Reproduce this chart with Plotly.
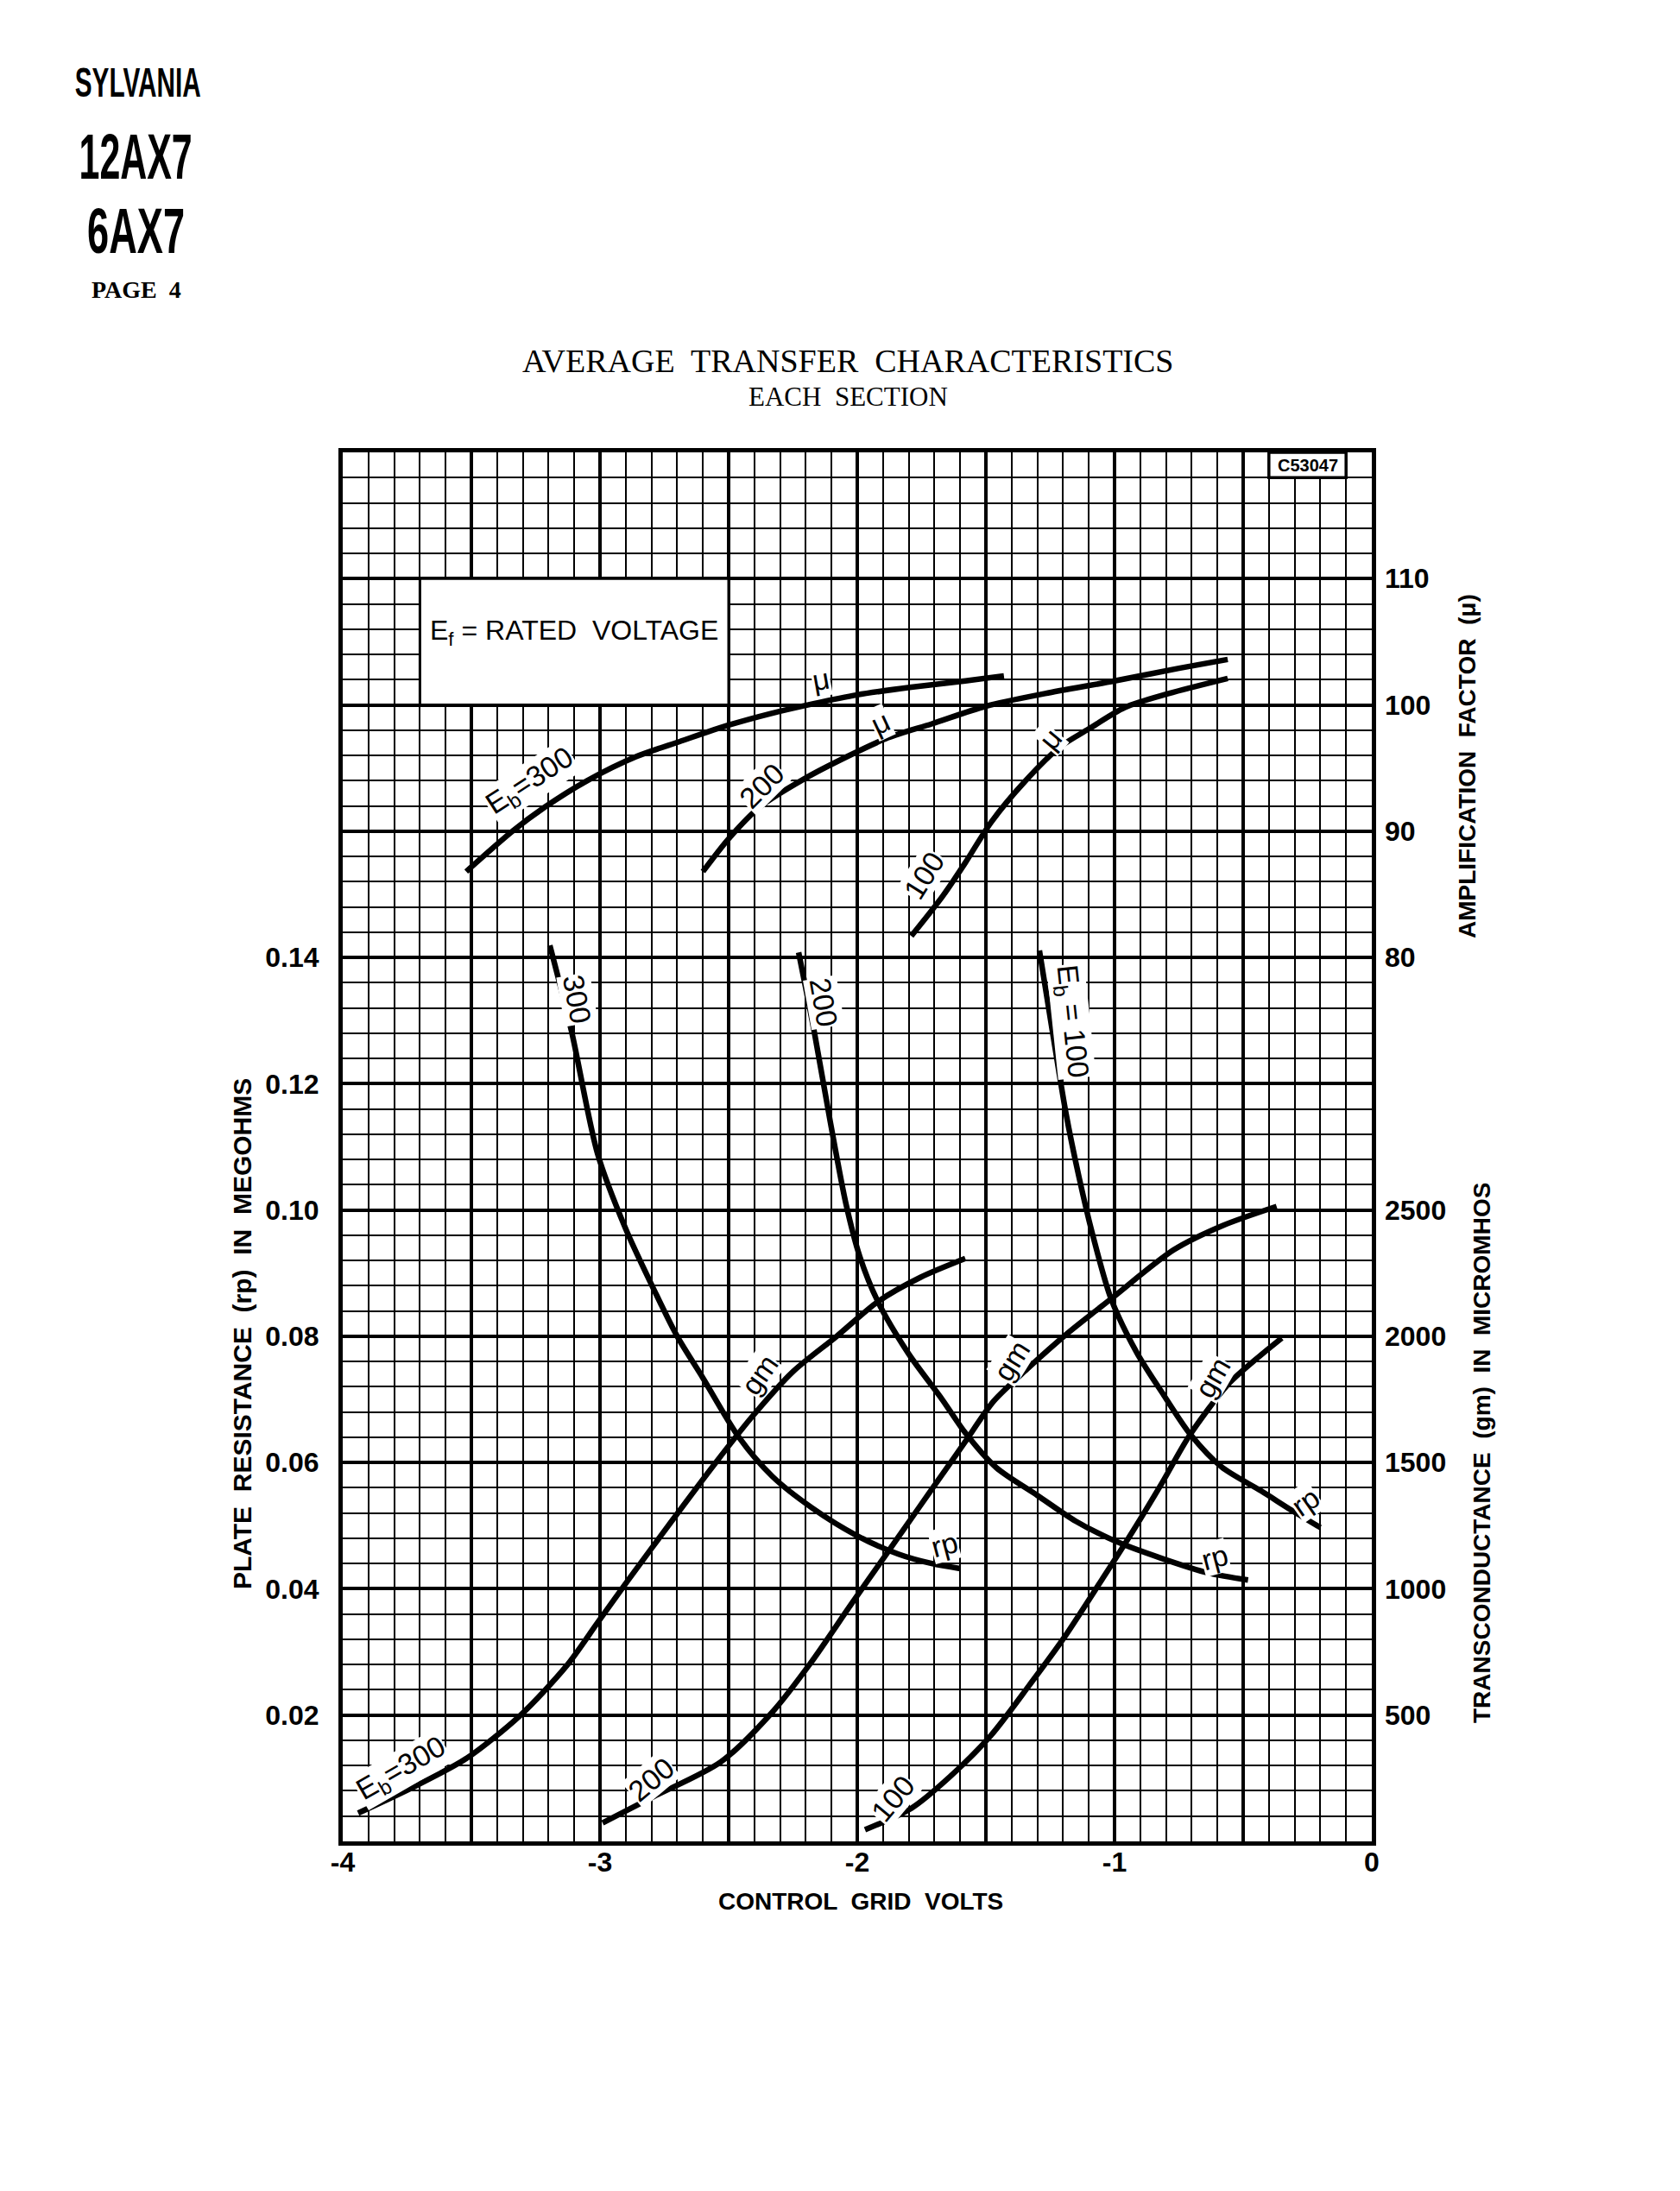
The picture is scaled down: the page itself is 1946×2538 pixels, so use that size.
import plotly.graph_objects as go

# ---------------- data ----------------
# Amplification factor (mu) vs control grid volts
mu300_v = [-3.52, -3.34, -3.215, -3.05, -2.86, -2.69, -2.50, -2.34, -2.17, -2.00, -1.79, -1.58, -1.43]
mu300 = [86.8, 90.0, 91.9, 94.0, 95.9, 97.1, 98.4, 99.3, 100.1, 100.8, 101.4, 101.9, 102.3]
mu200_v = [-2.60, -2.50, -2.38, -2.21, -2.04, -1.88, -1.71, -1.50, -1.27, -1.00, -0.75, -0.56]
mu200 = [86.8, 89.4, 91.9, 94.1, 95.9, 97.4, 98.5, 99.9, 100.9, 101.9, 102.9, 103.6]
mu100_v = [-1.79, -1.67, -1.58, -1.48, -1.35, -1.21, -1.10, -0.96, -0.79, -0.56]
mu100 = [81.7, 84.8, 87.5, 90.7, 93.9, 96.7, 98.1, 99.8, 100.9, 102.1]

# Plate resistance (megohms)
rp300_v = [-3.195, -3.11, -3.01, -2.90, -2.80, -2.70, -2.60, -2.46, -2.33, -2.175, -2.00, -1.84, -1.71, -1.60]
rp300 = [0.1419, 0.1282, 0.109, 0.097, 0.0882, 0.080, 0.0734, 0.0640, 0.0578, 0.0528, 0.0484, 0.0455, 0.0440, 0.0432]
rp200_v = [-2.228, -2.167, -2.105, -2.043, -1.99, -1.92, -1.80, -1.67, -1.58, -1.46, -1.30, -1.15, -0.994, -0.815, -0.635, -0.481]
rp200 = [0.1408, 0.1282, 0.114, 0.1008, 0.0926, 0.0855, 0.0772, 0.0700, 0.0647, 0.0592, 0.0548, 0.0507, 0.0475, 0.0448, 0.0425, 0.0414]
rp100_v = [-1.292, -1.241, -1.19, -1.138, -1.087, -1.014, -0.912, -0.809, -0.706, -0.584, -0.43, -0.31, -0.20]
rp100 = [0.1411, 0.1282, 0.1156, 0.1052, 0.0964, 0.0860, 0.0773, 0.0707, 0.0645, 0.0593, 0.0555, 0.0524, 0.0497]

# Transconductance (micromhos)
gm300_v = [-3.94, -3.72, -3.52, -3.31, -3.13, -3.01, -2.89, -2.72, -2.55, -2.41, -2.25, -2.08, -1.92, -1.755, -1.58]
gm300 = [112, 218, 328, 499, 695, 865, 1035, 1270, 1500, 1680, 1860, 2000, 2137, 2233, 2308]
gm200_v = [-2.99, -2.79, -2.53, -2.33, -2.18, -2.025, -1.89, -1.76, -1.66, -1.58, -1.47, -1.34, -1.18, -1.01, -0.77, -0.58, -0.37]
gm200 = [73, 178, 315, 512, 708, 937, 1133, 1322, 1467, 1583, 1743, 1870, 2014, 2151, 2342, 2438, 2514]
gm100_v = [-1.97, -1.79, -1.64, -1.48, -1.33, -1.20, -1.05, -0.94, -0.815, -0.71, -0.56, -0.44, -0.35]
gm100 = [46, 131, 256, 420, 620, 801, 1035, 1210, 1420, 1605, 1808, 1918, 1993]

# Tick labels
x_tickvals = [-4, -3.5, -3, -2.5, -2, -1.5, -1, -0.5, 0]
x_ticktext = ["-4", "", "-3", "", "-2", "", "-1", "", "0"]
rp_tickvals = [round(i * 0.02, 2) for i in range(12)]
rp_ticktext = ["", "0.02", "0.04", "0.06", "0.08", "0.10", "0.12", "0.14", "", "", "", ""]
mu_tickvals = [80, 90, 100, 110]
gm_tickvals = [500, 1000, 1500, 2000, 2500]

# ---------------- layout geometry ----------------
W, H = 1946, 2538
L, R, T, B = 397, 1589, 524, 2133


def pxx(xp):
    return (xp - L) / (R - L)


def pyy(yp):
    return (B - yp) / (B - T)


SANS = "Liberation Sans, Arial, sans-serif"
SERIF = "Liberation Serif, Times New Roman, serif"

fig = go.Figure()
lw = dict(color="black", width=6.5, shape="spline", smoothing=0.8)

for v, m in [(mu300_v, mu300), (mu200_v, mu200), (mu100_v, mu100)]:
    fig.add_trace(go.Scatter(x=v, y=m, yaxis="y2", mode="lines", line=lw, hoverinfo="skip"))
for v, r in [(rp300_v, rp300), (rp200_v, rp200), (rp100_v, rp100)]:
    fig.add_trace(go.Scatter(x=v, y=r, yaxis="y", mode="lines", line=lw, hoverinfo="skip"))
for v, g in [(gm300_v, gm300), (gm200_v, gm200), (gm100_v, gm100)]:
    fig.add_trace(go.Scatter(x=v, y=g, yaxis="y3", mode="lines", line=lw, hoverinfo="skip"))

tickfont = dict(family=SANS, size=32, color="black", weight="bold")
MAJ, MIN = 4.2, 2.2

fig.update_layout(
    width=W, height=H,
    margin=dict(l=L, r=W - R, t=T, b=H - B, autoexpand=False),
    paper_bgcolor="white", plot_bgcolor="white",
    showlegend=False,
    xaxis=dict(
        range=[-4, 0], tickmode="array", tickvals=x_tickvals, ticktext=x_ticktext,
        showgrid=True, gridcolor="black", gridwidth=MAJ, zeroline=False,
        minor=dict(tick0=-4, dtick=0.1, showgrid=True, gridcolor="black", gridwidth=MIN, ticks=""),
        showline=True, linecolor="black", linewidth=5, mirror=True,
        ticks="", tickfont=tickfont, ticklabelstandoff=-8,
    ),
    yaxis=dict(
        range=[0, 0.22], tickmode="array", tickvals=rp_tickvals, ticktext=rp_ticktext,
        showgrid=True, gridcolor="black", gridwidth=MAJ, zeroline=False,
        minor=dict(tick0=0, dtick=0.004, showgrid=True, gridcolor="black", gridwidth=MIN, ticks=""),
        showline=True, linecolor="black", linewidth=5, mirror=True,
        ticks="", tickfont=tickfont, ticklabelstandoff=16,
    ),
    yaxis2=dict(
        range=[10, 120], overlaying="y", side="right", tickmode="array", tickvals=mu_tickvals,
        showgrid=False, zeroline=False, showline=False, ticks="", tickfont=tickfont,
        ticklabelstandoff=14,
    ),
    yaxis3=dict(
        range=[0, 5500], overlaying="y", side="right", tickmode="array", tickvals=gm_tickvals,
        showgrid=False, zeroline=False, showline=False, ticks="", tickfont=tickfont,
        ticklabelstandoff=14,
    ),
)

# Boxes inside the grid
fig.add_shape(type="rect", xref="x", yref="y", x0=-3.7, x1=-2.5, y0=0.18, y1=0.20,
              fillcolor="white", line=dict(color="black", width=3), layer="above")
fig.add_shape(type="rect", xref="x", yref="y", x0=-0.4, x1=-0.1, y0=0.216, y1=0.22,
              fillcolor="white", line=dict(color="black", width=3.5), layer="above")

C = dict(xanchor="center", yanchor="middle", showarrow=False)
ann = []
ann.append(dict(text="E<sub>f</sub> = RATED  VOLTAGE", x=-3.1, y=0.1915, xref="x", yref="y",
                font=dict(family=SANS, size=32, color="black"), **C))
ann.append(dict(text="<b>C53047</b>", x=-0.25, y=0.218, xref="x", yref="y",
                font=dict(family=SANS, size=20, color="black"), **C))

# Curve labels: (text, x, y, angle, yref)
curve_labels = [
    ("E<sub>b</sub>=300", -3.27, 93.9, -33, "y2"),
    ("μ", -2.14, 102.0, -10, "y2"),
    ("200", -2.37, 93.6, -45, "y2"),
    ("μ", -1.91, 98.6, -25, "y2"),
    ("100", -1.74, 86.5, -58, "y2"),
    ("μ", -1.25, 97.3, -50, "y2"),
    ("300", -3.09, 0.1334, 80, "y"),
    ("200", -2.13, 0.1329, 80, "y"),
    ("E<sub>b</sub> = 100", -1.17, 0.1299, 84, "y"),
    ("rp", -1.66, 0.0470, -15, "y"),
    ("rp", -0.61, 0.0450, -15, "y"),
    ("rp", -0.26, 0.0538, -35, "y"),
    ("gm", -2.38, 1849, -55, "y3"),
    ("gm", -1.40, 1904, -58, "y3"),
    ("gm", -0.62, 1836, -60, "y3"),
    ("E<sub>b</sub>=300", -3.77, 285, -30, "y3"),
    ("200", -2.80, 245, -40, "y3"),
    ("100", -1.86, 170, -50, "y3"),
]
for txt, xv, yv, ang, yr in curve_labels:
    ann.append(dict(text=txt, x=xv, y=yv, xref="x", yref=yr, textangle=ang,
                    bgcolor="white", borderpad=0,
                    font=dict(family=SANS, size=34, color="black"), **C))

# Axis titles
TF = dict(family=SANS, size=28, color="black", weight="bold")
ann.append(dict(text="CONTROL  GRID  VOLTS", x=pxx(997), y=pyy(2202), xref="paper", yref="paper",
                font=TF, **C))
ann.append(dict(text="PLATE  RESISTANCE  (rp)  IN  MEGOHMS", x=pxx(280), y=pyy(1545),
                xref="paper", yref="paper", textangle=-90,
                font=dict(family=SANS, size=30, color="black", weight="bold"), **C))
ann.append(dict(text="AMPLIFICATION  FACTOR  (μ)", x=pxx(1699), y=pyy(888),
                xref="paper", yref="paper", textangle=-90, font=TF, **C))
ann.append(dict(text="TRANSCONDUCTANCE  (gm)  IN  MICROMHOS", x=pxx(1716), y=pyy(1683),
                xref="paper", yref="paper", textangle=-90, font=TF, **C))

# Titles
ann.append(dict(text="AVERAGE  TRANSFER  CHARACTERISTICS", x=pxx(982), y=pyy(418), xref="paper", yref="paper",
                font=dict(family=SERIF, size=38, color="black"), **C))
ann.append(dict(text="EACH  SECTION", x=pxx(982), y=pyy(459), xref="paper", yref="paper",
                font=dict(family=SERIF, size=31, color="black"), **C))

# Page header (condensed via a horizontal squeeze applied after render)
HF = dict(family=SANS, color="black", weight="bold")
ann.append(dict(text="SYLVANIA", x=pxx(160), y=pyy(95), xref="paper", yref="paper",
                font=dict(size=48, **HF), **C))
ann.append(dict(text="12AX7", x=pxx(157), y=pyy(182), xref="paper", yref="paper",
                font=dict(size=74, **HF), **C))
ann.append(dict(text="6AX7", x=pxx(157), y=pyy(267), xref="paper", yref="paper",
                font=dict(size=74, **HF), **C))
ann.append(dict(text="PAGE  4", x=pxx(158), y=pyy(335), xref="paper", yref="paper",
                font=dict(family=SERIF, size=28, color="black", weight="bold"), **C))

fig.update_layout(annotations=ann)

post = """
document.body.style.margin='0px';
var sq = {'SYLVANIA': 0.62, '12AX7': 0.58, '6AX7': 0.61};
document.querySelectorAll('.annotation-text').forEach(function(t){
  var s = t.textContent;
  if (sq[s]) {
    t.style.transformBox = 'fill-box';
    t.style.transformOrigin = 'center';
    t.style.transform = 'scaleX(' + sq[s] + ')';
  }
});
"""
fig.write_html("out.html", post_script=post, config={"displayModeBar": False})
